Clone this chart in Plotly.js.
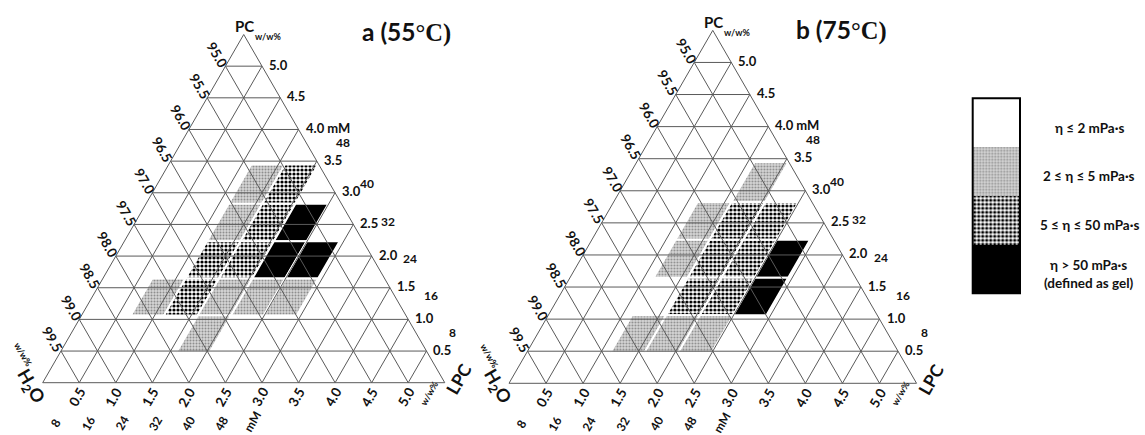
<!DOCTYPE html>
<html>
<head>
<meta charset="utf-8">
<script src="https://cdn.plot.ly/plotly-3.0.1.min.js"></script>
<style>
  html, body { margin: 0; padding: 0; background: #fff; }
  #chart { width: 1145px; height: 435px; }
</style>
</head>
<body>
<div id="chart"></div>
<script>
// ---- data -------------------------------------------------------------
// Every side of the ternary spans 5.5 w/w% (H2O runs 94.5 – 100).
const SIDE = 5.5;
const TICKS = [0.5, 1.0, 1.5, 2.0, 2.5, 3.0, 3.5, 4.0, 4.5, 5.0];

// Concentration steps (mM) and where they sit on the LPC / PC scales (w/w%).
const LPC_MM = [8, 16, 24, 32, 40, 48];
const LPC_WW = [0.45, 0.90, 1.36, 1.82, 2.27, 2.72];
const PC_MM = [8, 16, 24, 32, 40, 48];
const PC_WW = [0.77, 1.35, 1.94, 2.53, 3.12, 3.77];

// Viscosity class of each composition: rows = PC (mM), columns = LPC (mM).
// 0: eta <= 2 mPa·s, 1: 2-5 mPa·s, 2: 5-50 mPa·s, 3: > 50 mPa·s (gel)
const ROW_PC_MM = [40, 32, 24, 16, 8];
const COL_LPC_MM = [16, 24, 32, 40, 48];
const VISC_55C = [
  [0, 1, 2, 0, 0],
  [0, 1, 2, 3, 0],
  [0, 2, 2, 3, 3],
  [1, 2, 1, 1, 1],
  [0, 0, 1, 0, 0]
];
const VISC_75C = [
  [0, 0, 1, 0, 0],
  [0, 1, 2, 2, 0],
  [0, 1, 2, 2, 3],
  [0, 0, 2, 2, 3],
  [0, 1, 1, 1, 0]
];
const CLASS_LABELS = [
  'η ≤ 2 mPa·s',
  '2 ≤ η ≤ 5 mPa·s',
  '5 ≤ η ≤ 50 mPa·s',
  'η > 50 mPa·s<br>(defined as gel)'
];

// ---- styling ----------------------------------------------------------
const FONT = 'Lato, "Open Sans", "DejaVu Sans", sans-serif';
const INK = '#111';
const GRID_COLOR = '#5a5a5a';
const CLASS_STYLE = [
  { color: '#ffffff' },
  { color: '#c2c2c2', pattern: { shape: '.', size: 3, solidity: 0.35, fgcolor: '#8e8e8e', bgcolor: '#d6d6d6' } },
  { color: '#808080', pattern: { shape: '.', size: 4, solidity: 0.5, fgcolor: '#000000', bgcolor: '#ffffff' } },
  { color: '#000000' }
];

const W = 1145, H = 435;
// one panel per temperature: pixel origin of the H2O corner and px per w/w%
const PANELS = [
  { key: '', ox: 42.7, oy: 382.7, s: 73.1, dom: [0, 0.42], grid: VISC_55C,
    title: 'a (55', tx: 406.7, ty: 32 },
  { key: '2', ox: 509, oy: 383.3, s: 74.1, dom: [0.42, 0.84], grid: VISC_75C,
    title: 'b (75', tx: 841, ty: 30 }
];

// ternary (LPC, PC) in w/w% -> planar coordinates of an equilateral triangle
const SQ3 = Math.sqrt(3) / 2;
const proj = (lpc, pc) => [lpc + pc / 2, pc * SQ3];

// cell edges halfway between neighbouring concentration steps
function bounds(centres, i) {
  const c = centres[i];
  const lo = i > 0 ? (centres[i - 1] + c) / 2 : c - (centres[i + 1] - c) / 2;
  const hi = i < centres.length - 1 ? (c + centres[i + 1]) / 2 : c + (c - centres[i - 1]) / 2;
  return [lo, hi];
}

const traces = [];
const annotations = [];
const layout = {
  width: W, height: H,
  margin: { l: 0, r: 0, t: 0, b: 0 },
  paper_bgcolor: '#fff', plot_bgcolor: 'rgba(0,0,0,0)',
  showlegend: false,
  barmode: 'stack', bargap: 0,
  annotations: annotations,
  shapes: []
};

function hiddenAxis(extra) {
  return Object.assign({ visible: false, fixedrange: true, showgrid: false, zeroline: false }, extra);
}

const f = (size, extra) => Object.assign({ family: FONT, size: size, color: INK, weight: 'bold' }, extra);

function lab(P, lpc, pc, dx, dy, text, opts) {
  const [x, y] = proj(lpc, pc);
  return Object.assign({
    xref: 'x' + P.key, yref: 'y' + P.key,
    x: x + dx / P.s, y: y - dy / P.s,
    text: text, showarrow: false,
    xanchor: 'center', yanchor: 'middle',
    font: f(13.5)
  }, opts);
}

PANELS.forEach(P => {
  const xa = 'x' + P.key, ya = 'y' + P.key;
  const x0 = (P.dom[0] * W - P.ox) / P.s, x1 = (P.dom[1] * W - P.ox) / P.s;
  layout['xaxis' + P.key] = hiddenAxis({ domain: P.dom, range: [x0, x1], anchor: ya });
  layout['yaxis' + P.key] = hiddenAxis({ domain: [0, 1], range: [-(H - P.oy) / P.s, P.oy / P.s], anchor: xa });

  // shaded composition cells
  P.grid.forEach((row, r) => {
    row.forEach((cls, c) => {
      if (!cls) return;
      const [l0, l1] = bounds(LPC_WW, LPC_MM.indexOf(COL_LPC_MM[c]));
      const [p0, p1] = bounds(PC_WW, PC_MM.indexOf(ROW_PC_MM[r]));
      const pts = [[l0, p0], [l1, p0], [l1, p1], [l0, p1], [l0, p0]].map(p => proj(p[0], p[1]));
      const st = CLASS_STYLE[cls];
      const tr = {
        type: 'scatter', mode: 'lines', xaxis: xa, yaxis: ya,
        x: pts.map(p => p[0]), y: pts.map(p => p[1]),
        fill: 'toself', fillcolor: st.color,
        line: { color: '#ffffff', width: 2 },
        hoverinfo: 'skip', name: CLASS_LABELS[cls]
      };
      if (st.pattern) tr.fillpattern = st.pattern;
      traces.push(tr);
    });
  });

  // triangle outline and the three families of grid lines
  const gx = [], gy = [];
  const seg = (a, b) => {
    const p = proj(a[0], a[1]), q = proj(b[0], b[1]);
    gx.push(p[0], q[0], null); gy.push(p[1], q[1], null);
  };
  seg([0, 0], [SIDE, 0]); seg([SIDE, 0], [0, SIDE]); seg([0, SIDE], [0, 0]);
  TICKS.forEach(v => {
    seg([0, v], [SIDE - v, v]);   // constant PC
    seg([v, 0], [v, SIDE - v]);   // constant LPC
    seg([v, 0], [0, v]);          // constant H2O
  });
  traces.push({
    type: 'scatter', mode: 'lines', xaxis: xa, yaxis: ya, x: gx, y: gy,
    line: { color: GRID_COLOR, width: 1 }, hoverinfo: 'skip', connectgaps: false
  });

  // PC scale (right side), H2O scale (left side), LPC scale (bottom)
  TICKS.forEach(v => {
    annotations.push(lab(P, SIDE - v, v, 5, -1.5, v === 4.0 ? '4.0 mM' : v.toFixed(1), { xanchor: 'left', font: f(13) }));
    annotations.push(lab(P, 0, v, -8, -11.5, (100 - v).toFixed(1), { textangle: 60 }));
    annotations.push(lab(P, v, 0, -2, 14.5, v.toFixed(1), { textangle: -60 }));
  });
  PC_MM.forEach((m, i) => {
    annotations.push(lab(P, SIDE - PC_WW[i], PC_WW[i], 36, -1.5, String(m), { font: f(12) }));
  });
  LPC_MM.forEach((m, i) => {
    annotations.push(lab(P, LPC_WW[i], 0, -20.5, 40.5, String(m), { textangle: -60, font: f(12) }));
  });
  annotations.push(lab(P, 3.15, 0, -20.5, 39, 'mM', { textangle: -60, font: f(12) }));

  // corner labels
  annotations.push(lab(P, 0, SIDE, 1, -8.5, 'PC', { font: f(15) }));
  annotations.push(lab(P, 0, SIDE, 24, 2.3, 'w/w%', { font: f(9) }));
  annotations.push(lab(P, 0, 0, -12, 3.5, 'H<sub>2</sub>O', { textangle: 60, font: f(18) }));
  annotations.push(lab(P, 0, 0, -19.5, -28, 'w/w%', { textangle: 60, font: f(9) }));
  annotations.push(lab(P, SIDE, 0, 14.5, -4, 'LPC', { textangle: -60, font: f(17.5) }));
  annotations.push(lab(P, SIDE, 0, -16, 10.5, 'w/w%', { textangle: -60, font: f(9) }));

  // panel title
  annotations.push({
    xref: 'paper', yref: 'paper', x: P.tx / W, y: 1 - P.ty / H,
    xanchor: 'center', yanchor: 'middle', showarrow: false,
    text: P.title + '<span style="font-family:\'Liberation Serif\', serif">°C)</span>',
    font: f(24.5)
  });
});

// ---- viscosity key: one stacked column, gel at the bottom ----------------
const KEY_X = [972.7, 1020], KEY_Y = [98.3, 293.3];
layout.xaxis3 = hiddenAxis({ domain: [KEY_X[0] / W, KEY_X[1] / W], range: [-0.5, 0.5], anchor: 'y3' });
layout.yaxis3 = hiddenAxis({ domain: [1 - KEY_Y[1] / H, 1 - KEY_Y[0] / H], range: [0, CLASS_LABELS.length], anchor: 'x3' });
for (let k = CLASS_LABELS.length - 1; k >= 0; k--) {
  const st = CLASS_STYLE[k];
  const marker = { color: st.color, line: { width: 0 } };
  if (st.pattern) marker.pattern = Object.assign({}, st.pattern);
  traces.push({
    type: 'bar', xaxis: 'x3', yaxis: 'y3', x: [0], y: [1], width: 1,
    marker: marker, hoverinfo: 'skip', name: CLASS_LABELS[k]
  });
  annotations.push({
    xref: 'paper', yref: 'y3', x: 1089 / W, y: CLASS_LABELS.length - 1 - k + 0.5,
    yshift: -5, xanchor: 'center', yanchor: 'middle', showarrow: false,
    text: CLASS_LABELS[k], font: f(13.5), align: 'center'
  });
}
layout.shapes.push({
  type: 'rect', xref: 'x3 domain', yref: 'y3 domain', x0: 0, x1: 1, y0: 0, y1: 1,
  line: { color: '#000', width: 2 }, fillcolor: 'rgba(0,0,0,0)'
});

Plotly.newPlot('chart', traces, layout, { staticPlot: true, displayModeBar: false });
</script>
</body>
</html>
